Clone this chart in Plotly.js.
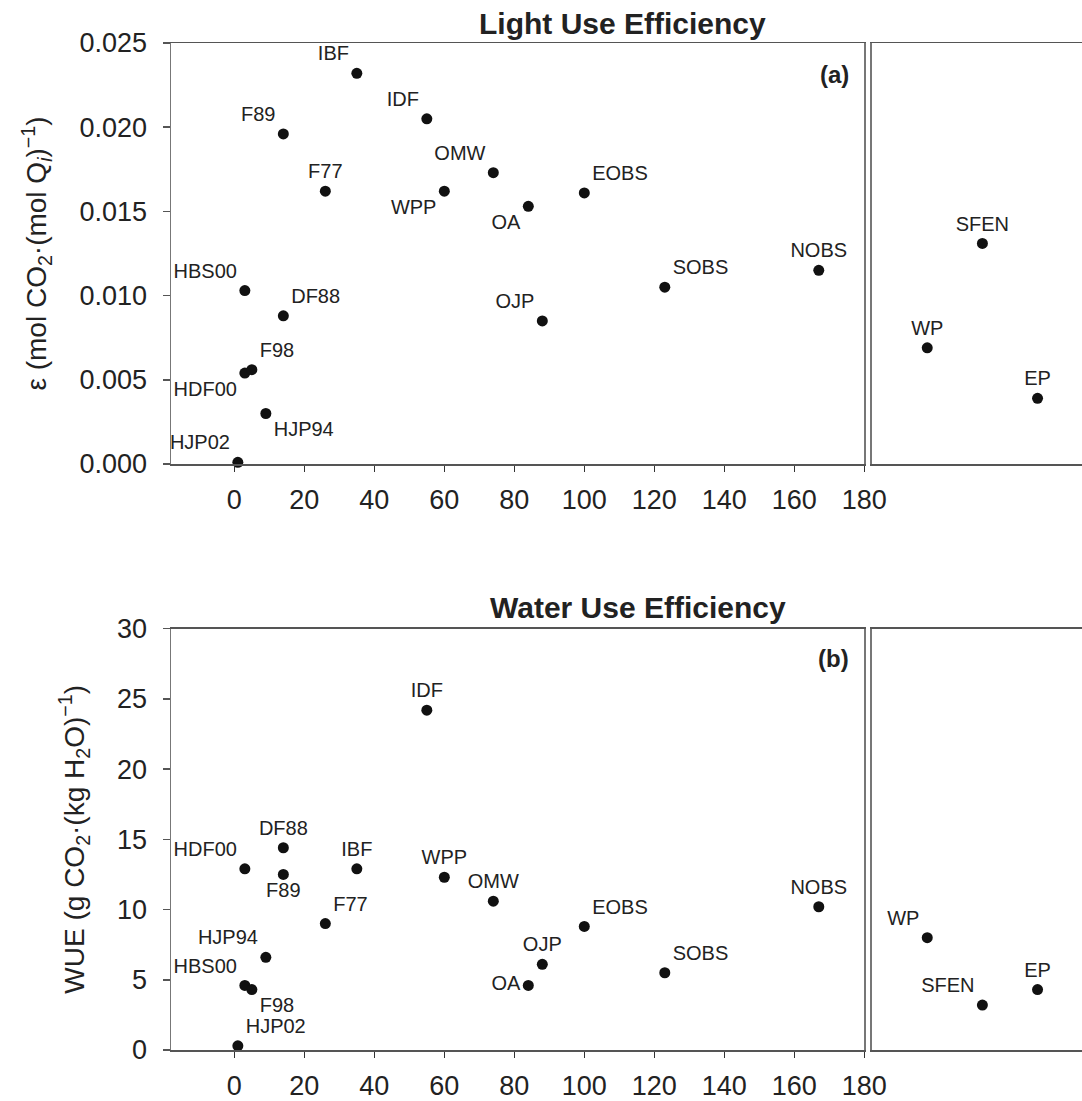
<!DOCTYPE html>
<html>
<head>
<meta charset="utf-8">
<script src="https://cdn.plot.ly/plotly-3.0.1.min.js"></script>
<style>html,body{margin:0;padding:0;background:#fff;overflow:hidden;}</style>
</head>
<body>
<div id="chart" style="width:1082px;height:1101px;"></div>
<script>
// ---- data ----
const sites = ["HJP02","HBS00","HDF00","F98","HJP94","DF88","F89","F77","IBF","IDF","WPP","OMW","OA","OJP","EOBS","SOBS","NOBS"];
const standAge = [1,3,3,5,9,14,14,26,35,55,60,74,84,88,100,123,167];
const lue = [0.0001,0.0103,0.0054,0.0056,0.0030,0.0088,0.0196,0.0162,0.0232,0.0205,0.0162,0.0173,0.0153,0.0085,0.0161,0.0105,0.0115];
const wue = [0.3,4.6,12.9,4.3,6.6,14.4,12.5,9.0,12.9,24.2,12.3,10.6,4.6,6.1,8.8,5.5,10.2];

const sitesExtra = ["WP","SFEN","EP"];
const lueExtra = [0.0069,0.0131,0.0039];
const wueExtra = [8.0,3.2,4.3];

const xTicks = [0,20,40,60,80,100,120,140,160,180];
const lueTicks = [0,0.005,0.010,0.015,0.020,0.025];
const wueTicks = [0,5,10,15,20,25,30];

// ---- label placement (style) ----
const luePos = ["top left","top left","bottom left","top right","bottom right","top right","top left","top center","top left","top left","bottom left","top left","bottom left","top left","top right","top right","top center"];
const wuePos = ["top right","top left","top left","bottom right","top left","top center","bottom center","top right","top center","top center","top center","top center","middle left","top center","top right","top right","top center"];
const luePosExtra = ["top center","top center","top center"];
const wuePosExtra = ["top left","top left","top center"];

const FONT = "Liberation Sans, Arial, Helvetica, sans-serif";
const marker = {color:"#111", size:11};
const tfont = {family:FONT, size:20, color:"#222"};

function tr(x, y, text, pos, xa, ya){
  return {type:"scatter", mode:"markers+text", x:x, y:y, text:text, textposition:pos,
    textfont:tfont, marker:marker, xaxis:xa, yaxis:ya, cliponaxis:false, hoverinfo:"skip", showlegend:false};
}

const data = [
  tr(standAge, lue, sites, luePos, "x", "y"),
  tr(sitesExtra, lueExtra, sitesExtra, luePosExtra, "x2", "y2"),
  tr(standAge, wue, sites, wuePos, "x3", "y3"),
  tr(sitesExtra, wueExtra, sitesExtra, wuePosExtra, "x4", "y4")
];

const tickFont = {family:FONT, size:27, color:"#222"};
const xLeft = {
  range:[-18.1,180], tickvals:xTicks, ticks:"outside", ticklen:6, tickcolor:"#333", tickwidth:1.5,
  showline:true, mirror:true, linecolor:"#555", linewidth:1.5, showgrid:false, zeroline:false,
  tickfont:tickFont, ticklabelstandoff:5, automargin:false
};
const xRight = {
  type:"category", range:[-1.003,2.806], showline:true, mirror:true, linecolor:"#555", linewidth:1.5,
  showgrid:false, zeroline:false, ticks:"", showticklabels:false, automargin:false
};
function yLeft(range, ticks, fmt, title, dom){
  return {domain:dom, range:range, tickvals:ticks, tickformat:fmt, ticks:"outside", ticklen:7, tickcolor:"#555", tickwidth:1.5,
    showline:true, mirror:true, linecolor:"#777", linewidth:1.5, showgrid:false, zeroline:false,
    tickfont:tickFont, ticklabelstandoff:10, automargin:false,
    title:{text:title, font:{family:FONT, size:28, color:"#222"}, standoff:24}};
}
function yRight(range, dom){
  return {domain:dom, range:range, showline:true, mirror:false, linecolor:"#777", linewidth:1.5,
    showgrid:false, zeroline:false, ticks:"", showticklabels:false, automargin:false};
}

const domL = [0, 0.7610], domR = [0.7694, 1];
const domTop = [0.5819, 1], domBot = [0, 0.4184];

const layout = {
  width:1082, height:1101, margin:{l:171, r:0, t:43, b:51},
  paper_bgcolor:"#fff", plot_bgcolor:"#fff", font:{family:FONT, color:"#222"},
  showlegend:false,
  xaxis: Object.assign({}, xLeft, {domain:domL, anchor:"y"}),
  yaxis: yLeft([0,0.025], lueTicks, ".3f", "ε (mol CO<sub>2</sub>·(mol Q<sub><i>i</i></sub>)<sup>−1</sup>)", domTop),
  xaxis2: Object.assign({}, xRight, {domain:domR, anchor:"y2"}),
  yaxis2: Object.assign(yRight([0,0.025], domTop), {anchor:"x2"}),
  xaxis3: Object.assign({}, xLeft, {domain:domL, anchor:"y3"}),
  yaxis3: yLeft([0,30], wueTicks, "", "WUE (g CO<sub>2</sub>·(kg H<sub>2</sub>O)<sup>−1</sup>)", domBot),
  xaxis4: Object.assign({}, xRight, {domain:domR, anchor:"y4"}),
  yaxis4: Object.assign(yRight([0,30], domBot), {anchor:"x4"}),
  annotations:[
    {text:"<b>Light Use Efficiency</b>", xref:"paper", yref:"paper", x:0.4956, y:1.0194, xanchor:"center", yanchor:"middle", showarrow:false, font:{family:FONT, size:30, color:"#222"}},
    {text:"<b>Water Use Efficiency</b>", xref:"paper", yref:"paper", x:0.5126, y:0.4399, xanchor:"center", yanchor:"middle", showarrow:false, font:{family:FONT, size:30, color:"#222"}},
    {text:"<b>(a)</b>", xref:"paper", yref:"paper", x:0.7462, y:0.9692, xanchor:"right", yanchor:"middle", showarrow:false, font:{family:FONT, size:24, color:"#222"}},
    {text:"<b>(b)</b>", xref:"paper", yref:"paper", x:0.7462, y:0.3883, xanchor:"right", yanchor:"middle", showarrow:false, font:{family:FONT, size:24, color:"#222"}}
  ]
};

Plotly.newPlot("chart", data, layout, {staticPlot:true, displayModeBar:false});
</script>
</body>
</html>
